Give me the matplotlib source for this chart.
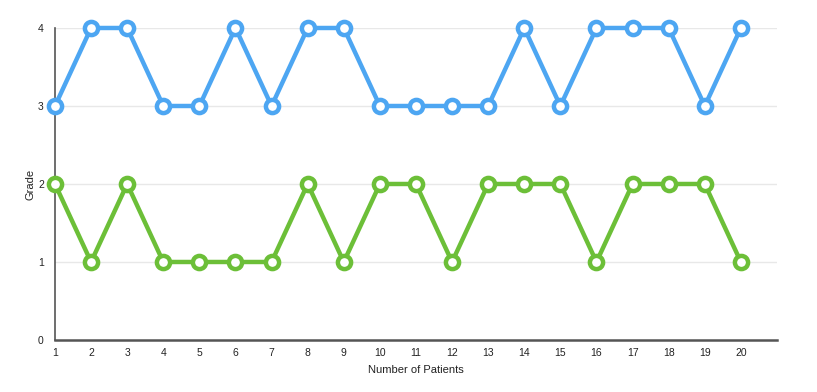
import matplotlib
matplotlib.use('Agg')
import matplotlib.pyplot as plt

plt.rcParams['font.family'] = ['Liberation Sans', 'DejaVu Sans']

patients = list(range(1, 21))
grade_blue = [3, 4, 4, 3, 3, 4, 3, 4, 4, 3, 3, 3, 3, 4, 3, 4, 4, 4, 3, 4]
grade_green = [2, 1, 2, 1, 1, 1, 1, 2, 1, 2, 2, 1, 2, 2, 2, 1, 2, 2, 2, 1]
y_ticks = [0, 1, 2, 3, 4]

fig = plt.figure(figsize=(8.17, 3.92), dpi=100, facecolor='white')
ax = fig.add_axes([0.0673, 0.1327, 0.8837, 0.7959])

for vals, col in [(grade_blue, '#4DA6F2'), (grade_green, '#6CBF38')]:
    ax.plot(patients, vals, color=col, linewidth=3.2, marker='o', markersize=9.5,
            markerfacecolor='white', markeredgecolor=col, markeredgewidth=3.2,
            clip_on=False, zorder=3)

ax.set_xlim(1, 21)
ax.set_ylim(0, 4)
ax.set_xticks(patients)
ax.set_yticks(y_ticks)
ax.tick_params(axis='x', length=0, labelsize=7.5, colors='#222222', pad=6)
ax.tick_params(axis='y', length=0, labelsize=7.5, colors='#222222', pad=8)
ax.grid(axis='y', color='#e8e8e8', linewidth=1)
ax.set_axisbelow(True)
for s in ['top', 'right']:
    ax.spines[s].set_visible(False)
ax.spines['left'].set_color('#555555')
ax.spines['bottom'].set_color('#555555')
ax.spines['left'].set_linewidth(1.2)
ax.spines['bottom'].set_linewidth(1.8)
ax.set_xlabel('Number of Patients', fontsize=8, color='#222222', labelpad=5)
ax.set_ylabel('Grade', fontsize=8, color='#222222', labelpad=2)

plt.savefig('out.png', dpi=100)
